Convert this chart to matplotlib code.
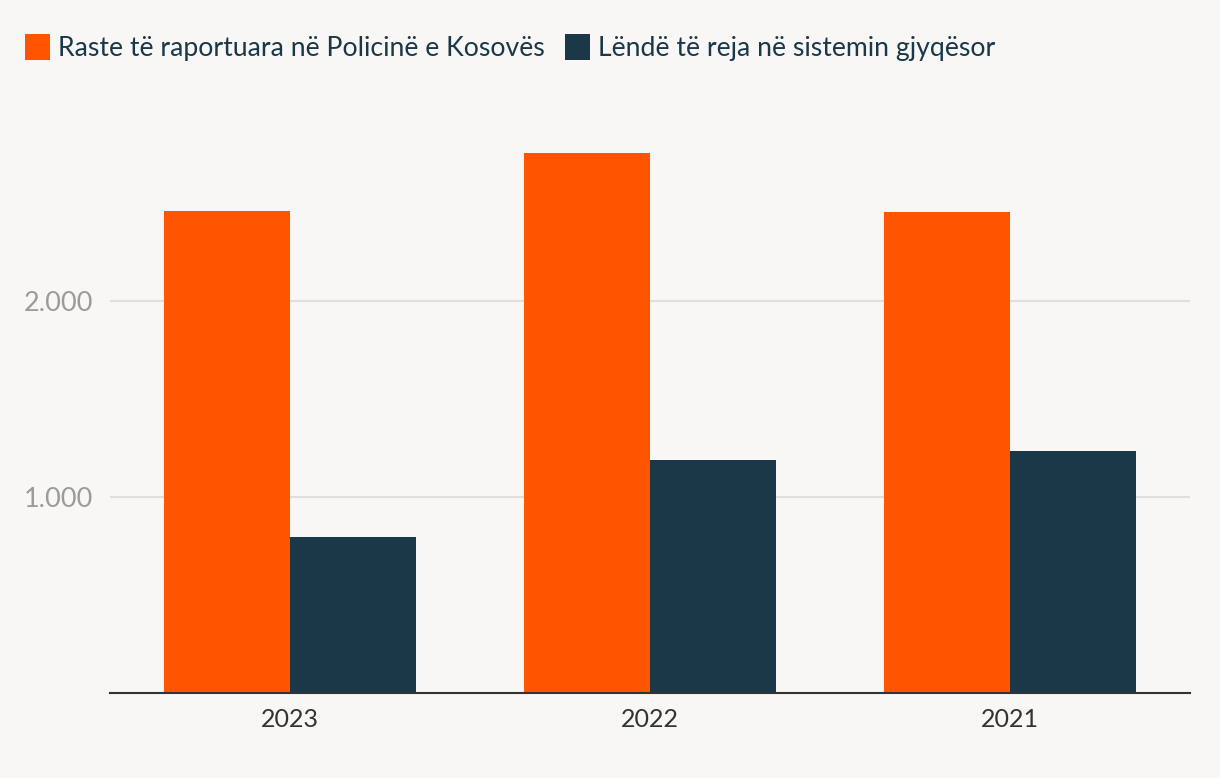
import numpy as np
import matplotlib
matplotlib.use("Agg")
import matplotlib.pyplot as plt
from matplotlib.patches import Patch
import matplotlib.ticker as mtick

# data
years = ["2023", "2022", "2021"]
police_cases = [2459, 2755, 2454]
court_cases = [796, 1189, 1235]
series_labels = ["Raste të raportuara në Policinë e Kosovës",
                 "Lëndë të reja në sistemin gjyqësor"]

bg = "#f8f7f5"
orange = "#ff5500"
navy = "#1b3849"

plt.rcParams["font.family"] = ["Lato", "DejaVu Sans"]

fig = plt.figure(figsize=(12.2, 7.78), dpi=100, facecolor=bg)
ax = fig.add_axes([110 / 1220, (778 - 693) / 778, 1080 / 1220, 588 / 778])
ax.set_facecolor(bg)

x = np.arange(len(years))
w = 0.35
ax.bar(x - w / 2, police_cases, width=w, color=orange, zorder=3)
ax.bar(x + w / 2, court_cases, width=w, color=navy, zorder=3)

ax.set_xlim(-0.5, 2.5)
ax.set_ylim(0, 3000)
ax.set_yticks([1000, 2000])
ax.yaxis.set_major_formatter(mtick.FuncFormatter(lambda v, p: f"{int(v):,}".replace(",", ".")))
ax.set_xticks(x)
ax.set_xticklabels(years)

ax.grid(axis="y", color="#e0dfdd", linewidth=1.5, zorder=0)
for s in ["top", "right", "left"]:
    ax.spines[s].set_visible(False)
ax.spines["bottom"].set_color("#333333")
ax.spines["bottom"].set_linewidth(1.5)
ax.spines["bottom"].set_zorder(4)

ax.tick_params(axis="y", length=0, pad=12, labelsize=19.5, labelcolor="#9b9b9b")
ax.tick_params(axis="x", length=0, pad=11, labelsize=18, labelcolor="#333333")

handles = [Patch(facecolor=orange), Patch(facecolor=navy)]
fig.legend(handles, series_labels, loc="upper left", bbox_to_anchor=(25 / 1220, 1 - 34 / 778),
           ncol=2, frameon=False, fontsize=19.2, labelcolor="#1b3849", borderpad=0, borderaxespad=0,
           handlelength=0.95, handleheight=1.15, handletextpad=0.3, columnspacing=0.75)

fig.savefig("out.png", dpi=100, facecolor=bg)
